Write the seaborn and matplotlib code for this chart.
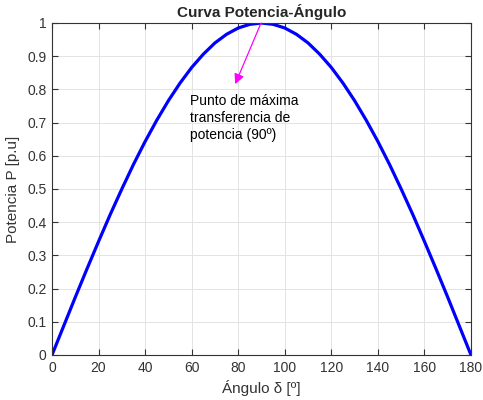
import matplotlib
matplotlib.use("Agg")
import matplotlib.pyplot as plt
import seaborn as sns
import pandas as pd

# Power-angle curve samples, every 5 degrees
angle_deg = [0, 5, 10, 15, 20, 25, 30, 35, 40, 45, 50, 55, 60, 65, 70, 75, 80, 85, 90,
             95, 100, 105, 110, 115, 120, 125, 130, 135, 140, 145, 150, 155, 160, 165, 170, 175, 180]
power_pu = [0.0, 0.087, 0.174, 0.259, 0.342, 0.423, 0.5, 0.574, 0.643, 0.707, 0.766, 0.819,
            0.866, 0.906, 0.940, 0.966, 0.985, 0.996, 1.0,
            0.996, 0.985, 0.966, 0.940, 0.906, 0.866, 0.819, 0.766, 0.707, 0.643, 0.574,
            0.5, 0.423, 0.342, 0.259, 0.174, 0.087, 0.0]
x_ticks = [0, 20, 40, 60, 80, 100, 120, 140, 160, 180]
y_ticks = [0, 0.1, 0.2, 0.3, 0.4, 0.5, 0.6, 0.7, 0.8, 0.9, 1]
y_tick_labels = ["0", "0.1", "0.2", "0.3", "0.4", "0.5", "0.6", "0.7", "0.8", "0.9", "1"]

df = pd.DataFrame({"angle": angle_deg, "power": power_pu})

sns.set_style("white")
plt.rcParams["font.family"] = ["Liberation Sans", "DejaVu Sans"]

fig = plt.figure(figsize=(4.83, 4.0), dpi=100)
ax = fig.add_axes([52 / 483, 45 / 400, 419 / 483, 332 / 400])

sns.lineplot(data=df, x="angle", y="power", color="#0000ff", linewidth=2.3, ax=ax)

ax.set_xlim(0, 180)
ax.set_ylim(0, 1)
ax.set_xticks(x_ticks)
ax.set_yticks(y_ticks)
ax.set_yticklabels(y_tick_labels)
ax.grid(True, color="#e3e3e3", linewidth=0.7)
ax.set_axisbelow(True)
ax.tick_params(direction="in", length=4, color="#333333", labelcolor="#333333",
               labelsize=10, top=True, right=True, bottom=True, left=True,
               labeltop=False, labelright=False, pad=4)
for s in ax.spines.values():
    s.set_color("#333333")
    s.set_linewidth(0.8)

ax.set_xlabel("Ángulo δ [º]", fontsize=11, color="#333333", labelpad=4)
ax.set_ylabel("Potencia P [p.u]", fontsize=11, color="#333333", labelpad=5)
ax.set_title("Curva Potencia-Ángulo", fontsize=11, fontweight="bold", pad=4)

ax.annotate("", xy=(78.7, 0.816), xytext=(89.8, 1.0),
            arrowprops=dict(arrowstyle="-|>", color="#ff00ff", lw=0.9,
                            mutation_scale=15, shrinkA=0, shrinkB=0))
ax.text(59.4, 0.785, "Punto de máxima\ntransferencia de\npotencia (90º)",
        fontsize=10, va="top", ha="left", color="#000000", linespacing=1.25)

fig.savefig("out.png", dpi=100)
